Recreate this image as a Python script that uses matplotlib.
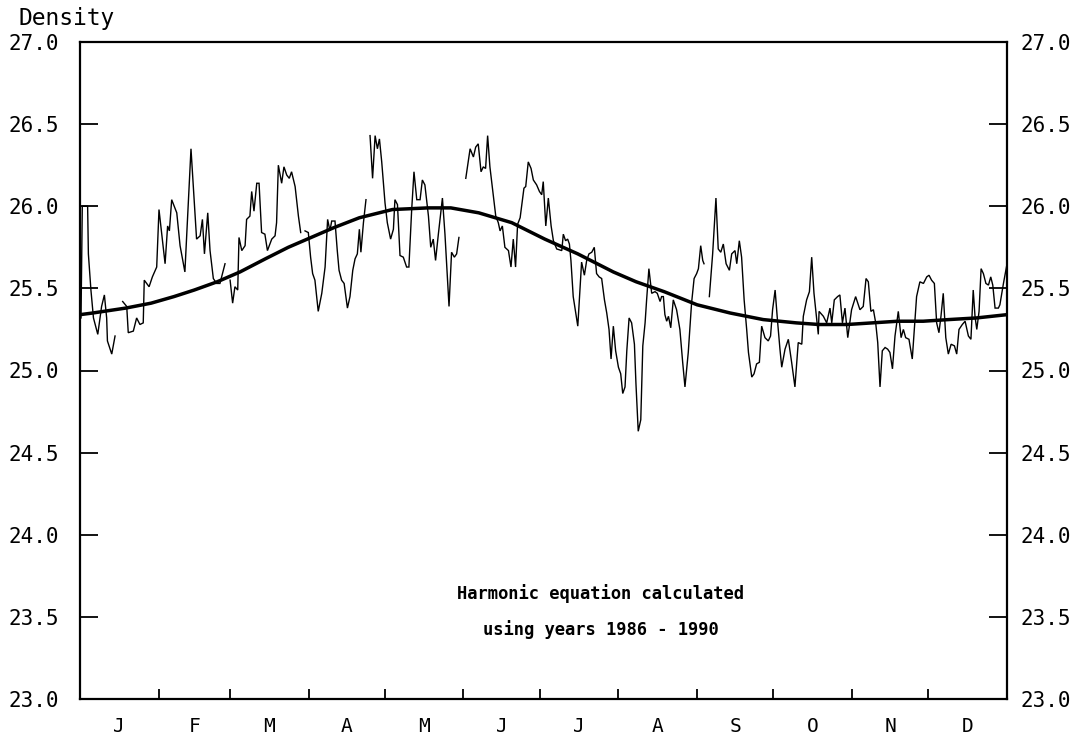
import numpy as np
import matplotlib
matplotlib.use("Agg")
import matplotlib.pyplot as plt
from matplotlib.ticker import FixedLocator, NullFormatter, FixedFormatter

nan = np.nan

# ---- data -------------------------------------------------------------
months = ['J', 'F', 'M', 'A', 'M', 'J', 'J', 'A', 'S', 'O', 'N', 'D']
month_lengths = [31, 28, 31, 30, 31, 30, 31, 31, 30, 31, 30, 31]

y_ticks = [23.0, 23.5, 24.0, 24.5, 25.0, 25.5, 26.0, 26.5, 27.0]
y_tick_labels = ['23.0', '23.5', '24.0', '24.5', '25.0', '25.5', '26.0', '26.5', '27.0']

# observed mean density (day of year), NaN marks a break in the record
obs_day = [
    0.4, 0.9, 3.0, 3.3, 4.3, 5.3, 7.0, 8.5, 9.6, 10.5, 10.8, 12.5, 13.8,
    15.3,
    16.8, 18.4, 19.0, 21.0, 22.3, 23.6, 24.9, 25.3, 27.2, 28.5, 30.2, 31.1, 33.5,
    34.5, 35.2, 36.1, 38.1, 39.4, 41.3, 43.7, 45.9, 47.3, 48.2, 49.0, 50.3, 51.2,
    52.5, 53.8, 55.1, 57.1,
    58.1,
    59.1, 60.1, 61.0, 62.1, 62.6, 63.7, 65.0, 65.6, 66.9, 67.6, 68.5, 69.6, 70.5,
    71.5, 72.8, 73.8, 75.5, 76.8, 77.4, 78.1, 79.4, 80.3, 81.4, 82.4, 83.3, 84.7,
    86.0, 86.9,
    87.7,
    88.6, 89.9, 90.8, 91.6, 92.5, 93.8, 95.2, 96.5, 97.5, 98.4, 99.1, 100.4, 101.3,
    102.0, 103.0, 104.0, 105.3, 106.3, 107.4, 108.3, 109.2, 110.0, 110.6, 111.6, 112.6,
    113.4,
    114.2, 115.2, 116.2, 117.1, 117.9, 118.8, 120.1, 121.0, 122.3, 123.4, 124.0, 125.0,
    126.0, 127.3, 128.6, 129.5, 130.6, 131.5, 132.6, 133.9, 134.8, 135.8, 137.2, 138.1,
    139.1, 140.0, 141.1, 142.7, 143.7, 145.3, 146.3, 147.4, 148.3, 149.2,
    150.5,
    151.9, 153.6, 154.9, 155.8, 156.8, 157.9, 158.8, 159.7, 160.5, 161.4, 162.8, 163.7,
    164.7, 165.4, 166.3, 167.3, 168.7, 169.7, 170.6, 171.5, 172.3, 173.3, 173.9, 174.8,
    175.5, 176.5, 177.6, 178.5, 179.8, 180.9, 181.8, 182.4, 183.4, 184.4, 185.5, 186.4,
    187.7, 189.7, 190.3, 191.2, 192.0, 192.7, 193.3, 194.2, 195.2, 196.0, 196.9, 197.5,
    198.6, 199.5, 200.4, 201.5, 202.5, 203.4, 204.4, 205.4, 206.5, 207.4, 208.3, 209.1,
    210.0, 210.9, 212.0, 212.9, 213.7, 214.6, 215.3, 216.2, 217.2, 218.3, 218.9, 219.8,
    220.8, 221.6, 222.5, 223.1, 224.0, 225.1, 226.4, 227.3, 228.4, 229.0, 229.7, 230.3,
    231.0, 231.7, 232.6, 233.6, 234.9, 236.2, 237.3, 238.2, 239.5, 240.8, 241.8, 242.8,
    243.5, 244.4, 245.2, 245.7,
    246.8,
    247.8, 249.1, 250.4, 251.3, 252.3, 253.3, 254.4, 255.7, 256.6, 257.9, 258.6, 259.6,
    260.5, 261.5, 262.5, 263.2, 264.5, 265.4, 266.4, 267.5, 268.4, 269.7, 271.0, 271.9,
    272.7, 273.7, 274.6, 275.6, 276.3, 277.6, 278.9, 280.2, 281.5, 282.8, 284.2, 284.8,
    286.1, 287.2, 288.1, 289.0, 290.1, 290.7, 291.0, 292.7, 294.0, 295.3, 296.0, 297.0,
    298.3, 299.2, 300.2, 301.2, 302.3, 303.8, 305.4, 307.1, 308.4, 309.5, 310.4, 311.4,
    312.4, 313.3, 314.1, 315.0, 315.9, 317.0, 318.0, 318.9, 319.9, 320.9, 322.2, 323.3,
    324.2, 325.1, 326.4, 327.7, 328.5, 329.4, 330.7, 332.1, 333.4, 334.3, 335.3, 336.4,
    337.3, 338.2, 339.0, 339.9, 340.9, 341.9, 343.0, 344.3, 345.2, 346.1, 347.4, 348.5,
    349.8, 350.8, 351.7, 352.4, 353.1, 354.0, 354.8, 355.7, 356.7, 357.7, 358.6, 359.4,
    360.3, 361.6, 362.2, 363.6, 364.9,
]
obs_density = [
    25.32, 26.00, 26.00, 25.71, 25.49, 25.32, 25.22, 25.39, 25.46, 25.32, 25.18, 25.10, 25.21,
    nan,
    25.42, 25.39, 25.23, 25.24, 25.32, 25.28, 25.29, 25.55, 25.51, 25.57, 25.63, 25.98, 25.65,
    25.88, 25.85, 26.04, 25.96, 25.76, 25.60, 26.35, 25.80, 25.82, 25.92, 25.71, 25.96, 25.73,
    25.56, 25.53, 25.53, 25.65,
    nan,
    25.55, 25.41, 25.51, 25.49, 25.81, 25.73, 25.76, 25.92, 25.94, 26.09, 25.97, 26.14, 26.14,
    25.84, 25.83, 25.73, 25.80, 25.82, 25.90, 26.25, 26.14, 26.24, 26.19, 26.17, 26.21, 26.12,
    25.94, 25.84,
    nan,
    25.85, 25.84, 25.69, 25.59, 25.55, 25.36, 25.47, 25.63, 25.92, 25.85, 25.91, 25.91, 25.73,
    25.61, 25.55, 25.53, 25.38, 25.45, 25.61, 25.68, 25.71, 25.86, 25.72, 25.90, 26.04,
    nan,
    26.43, 26.17, 26.43, 26.35, 26.41, 26.27, 26.02, 25.90, 25.80, 25.86, 26.04, 26.01,
    25.70, 25.69, 25.63, 25.63, 25.98, 26.21, 26.04, 26.04, 26.16, 26.13, 25.94, 25.75,
    25.80, 25.67, 25.83, 26.05, 25.83, 25.39, 25.72, 25.69, 25.71, 25.81,
    nan,
    26.17, 26.35, 26.30, 26.36, 26.38, 26.21, 26.24, 26.23, 26.43, 26.24, 26.06, 25.94,
    25.90, 25.85, 25.88, 25.75, 25.73, 25.63, 25.80, 25.63, 25.89, 25.93, 26.00, 26.11,
    26.12, 26.27, 26.23, 26.16, 26.13, 26.09, 26.07, 26.15, 25.88, 26.05, 25.88, 25.79,
    25.74, 25.73, 25.83, 25.79, 25.80, 25.77, 25.67, 25.45, 25.35, 25.27, 25.51, 25.66,
    25.58, 25.67, 25.71, 25.72, 25.75, 25.59, 25.57, 25.56, 25.43, 25.35, 25.25, 25.07,
    25.27, 25.12, 25.02, 24.98, 24.86, 24.90, 25.12, 25.32, 25.29, 25.16, 24.92, 24.63,
    24.70, 25.15, 25.29, 25.43, 25.62, 25.47, 25.48, 25.47, 25.42, 25.45, 25.45, 25.34,
    25.30, 25.33, 25.26, 25.43, 25.37, 25.25, 25.05, 24.90, 25.11, 25.41, 25.56, 25.59,
    25.62, 25.76, 25.67, 25.65,
    nan,
    25.45, 25.71, 26.05, 25.74, 25.72, 25.77, 25.65, 25.61, 25.71, 25.73, 25.65, 25.79,
    25.69, 25.43, 25.25, 25.11, 24.96, 24.98, 25.04, 25.05, 25.27, 25.20, 25.18, 25.21,
    25.37, 25.49, 25.31, 25.13, 25.02, 25.13, 25.19, 25.05, 24.90, 25.17, 25.16, 25.33,
    25.43, 25.48, 25.69, 25.47, 25.31, 25.22, 25.36, 25.33, 25.29, 25.38, 25.29, 25.43,
    25.45, 25.46, 25.29, 25.38, 25.20, 25.37, 25.45, 25.37, 25.39, 25.56, 25.54, 25.36,
    25.37, 25.29, 25.17, 24.90, 25.12, 25.14, 25.13, 25.11, 25.01, 25.21, 25.36, 25.20,
    25.25, 25.20, 25.19, 25.07, 25.25, 25.45, 25.54, 25.53, 25.57, 25.58, 25.55, 25.53,
    25.29, 25.23, 25.33, 25.47, 25.20, 25.10, 25.16, 25.15, 25.10, 25.25, 25.28, 25.30,
    25.21, 25.19, 25.49, 25.33, 25.25, 25.36, 25.62, 25.59, 25.53, 25.52, 25.57, 25.52,
    25.38, 25.38, 25.40, 25.53, 25.64,
]

# harmonic fit curve
harm_day = [0, 5, 18, 28, 37, 45, 54, 63, 73, 82, 91, 100, 110, 123, 137, 146, 157,
            170, 183, 196, 210, 219, 230, 243, 256, 269, 282, 291, 302, 312, 322,
            332, 342, 353, 365]
harm_density = [25.34, 25.35, 25.38, 25.41, 25.45, 25.49, 25.54, 25.60, 25.68, 25.75,
                25.81, 25.87, 25.93, 25.98, 25.99, 25.99, 25.96, 25.90, 25.80, 25.71,
                25.60, 25.54, 25.48, 25.40, 25.35, 25.31, 25.29, 25.28, 25.28, 25.29,
                25.30, 25.30, 25.31, 25.32, 25.34]

note_lines = ['Harmonic equation calculated', 'using years 1986 - 1990']

# ---- figure -----------------------------------------------------------
W, H = 1090, 737
fig = plt.figure(figsize=(W / 100, H / 100), dpi=100)
ax = fig.add_axes([80 / W, 1 - 699 / H, (1007 - 80) / W, (699 - 42) / H])

ax.plot(obs_day, obs_density, color='black', lw=1.0, solid_joinstyle='miter')
ax.plot(harm_day, harm_density, color='black', lw=2.5, solid_capstyle='butt')

ax.set_xlim(0, 365)
ax.set_ylim(23.0, 27.0)

mono = 'DejaVu Sans Mono'

bounds = np.cumsum(month_lengths)[:-1]
mids = np.cumsum(month_lengths) - np.array(month_lengths) / 2.0
ax.xaxis.set_major_locator(FixedLocator(bounds))
ax.xaxis.set_major_formatter(NullFormatter())
ax.xaxis.set_minor_locator(FixedLocator(mids))
ax.xaxis.set_minor_formatter(FixedFormatter(months))
ax.tick_params(axis='x', which='major', direction='in', length=7, width=1.3,
               top=False, bottom=True)
ax.tick_params(axis='x', which='minor', length=0, pad=13, labelsize=14)

ax.set_yticks(y_ticks)
ax.set_yticklabels(y_tick_labels)
ax.tick_params(axis='y', which='major', direction='in', length=13, width=1.3,
               left=True, right=True, labelleft=True, labelright=True,
               labelsize=15, pad=10)
for lab in ax.yaxis.get_ticklabels() + ax.xaxis.get_ticklabels(minor=True):
    lab.set_family(mono)
# left labels sit a little further from the frame than right ones
for t in ax.yaxis.get_major_ticks():
    t.set_pad(10)
    t.label1.set_x(-0.008)

for s in ax.spines.values():
    s.set_linewidth(1.6)
    s.set_color('black')

ax.text(205, 23.645, note_lines[0], ha='center', va='center',
        family=mono, fontweight='bold', fontsize=12.3)
ax.text(205, 23.425, note_lines[1], ha='center', va='center',
        family=mono, fontweight='bold', fontsize=12.3)

fig.text(18 / W, 1 - 18 / H, 'Density', ha='left', va='center',
         family=mono, fontsize=16.5)

fig.savefig('out.png', dpi=100, facecolor='white')
